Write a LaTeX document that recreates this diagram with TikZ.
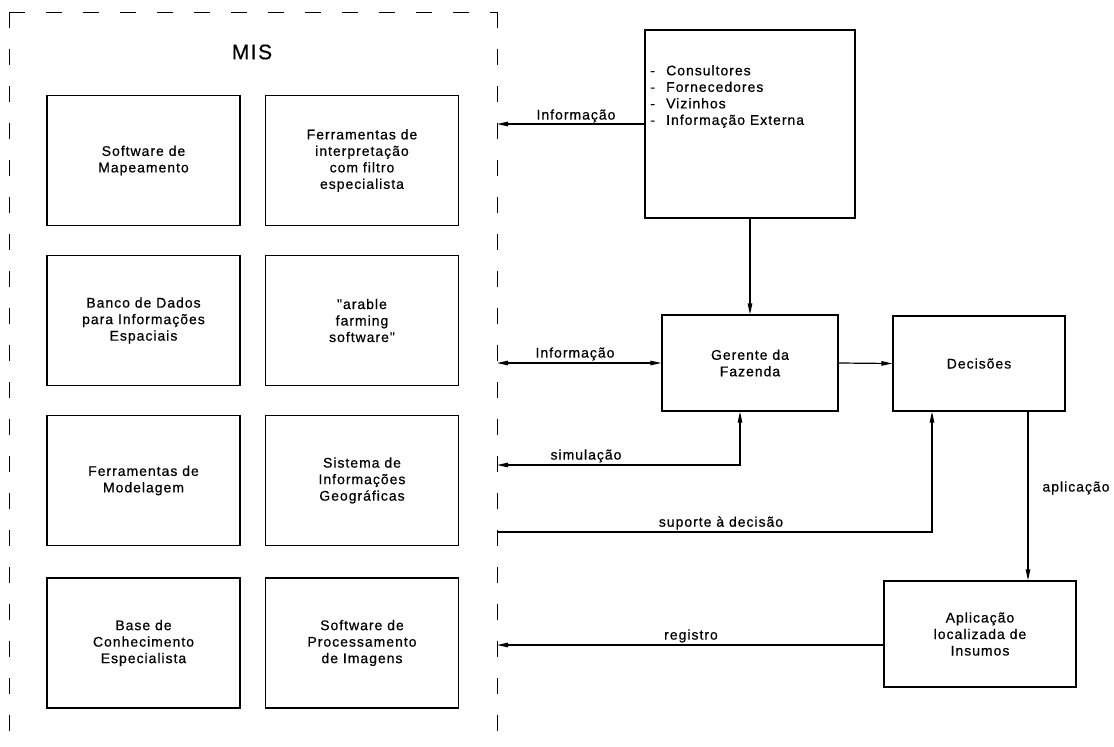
\documentclass[tikz,border=0pt]{standalone}
\usepackage{fontspec}
\setmainfont{Liberation Sans}[LetterSpace=7, FakeBold=0.6, Ligatures=TeXOff]
\usetikzlibrary{arrows.meta}
\begin{document}
\begin{tikzpicture}[x=1pt,y=-1pt,
  txt/.style={font=\fontsize{14}{16.5}\selectfont},
  box/.style={draw, line width=1.2pt, inner sep=0pt, align=center, txt},
  misbox/.style={box, minimum width=193pt, minimum height=130pt},
  lbl/.style={txt, inner sep=0pt},
  arr/.style={line width=1.2pt, -{Triangle[length=11pt,width=4.5pt]}},
  arrs/.style={line width=1.2pt, {Triangle[length=11pt,width=4.5pt]}-{Triangle[length=11pt,width=4.5pt]}},
  frame/.style={line width=1pt, dash pattern=on 16pt off 21pt}
]
\useasboundingbox (0,0) rectangle (1114,747);

% MIS frame (open at the bottom edge of the page), dashes starting at the corners
\coordinate (tl) at (9,12);
\coordinate (tr) at (497,12);
\draw[frame] (tl) -- (9,747);
\draw[frame] (tl) -- (tr);
\draw[frame] (tr) -- (497,747);
\node[font=\fontsize{21}{24}\selectfont, inner sep=0pt] (mis) at (252,52) {MIS};
\coordinate (misR) at (497,0);

% MIS components
\node[misbox] (map)  at (143.5,160.5) {Software de\\Mapeamento};
\node[misbox] (ferr) at (362,160.5) {Ferramentas de\\interpretação\\com filtro\\especialista};
\node[misbox] (bd)   at (143.5,320.5) {Banco de Dados\\para Informações\\Espaciais};
\node[misbox] (arab) at (362,320.5) {"arable\\farming\\software"};
\node[misbox] (mod)  at (143.5,480.5) {Ferramentas de\\Modelagem};
\node[misbox] (sig)  at (362,480.5) {Sistema de\\Informações\\Geográficas};
\node[misbox] (base) at (143.5,643) {Base de\\Conhecimento\\Especialista};
\node[misbox] (proc) at (362,643) {Software de\\Processamento\\de Imagens};

% Right-hand blocks
\node[box, minimum width=210pt, minimum height=188pt] (cons) at (750,124) {};
\node[txt, align=left, anchor=north west, inner sep=0pt] (constxt) at (650,65)
  {\makebox[16pt][l]{-}Consultores\\
   \makebox[16pt][l]{-}Fornecedores\\
   \makebox[16pt][l]{-}Vizinhos\\
   \makebox[16pt][l]{-}Informação Externa};
\node[box, minimum width=176pt, minimum height=96pt] (ger) at (750,363) {Gerente da\\Fazenda};
\node[box, minimum width=172pt, minimum height=95pt] (dec) at (979,363.5) {Decisões};
\node[box, minimum width=192pt, minimum height=106pt] (apl) at (980,634) {Aplicação\\localizada de\\Insumos};

% Connectors
\draw[arr] (cons.west) -- (cons.west -| misR);
\draw[arr] (cons.south) -- (ger.north);
\draw[arrs] (ger.west -| misR) -- (ger.west);
\draw[arr] (ger.east) -- (dec.west);
\coordinate (simL) at (497,465);
\draw[arrs] (simL) -| ([xshift=-10pt]ger.south);
\coordinate (supL) at (497,532);
\draw[arr] (supL) -| ([xshift=-47pt]dec.south);
\draw[arr] ([xshift=49pt]dec.south) -- ([xshift=49pt]dec.south |- apl.north);
\draw[arr] ([yshift=-11pt]apl.west) -- ([yshift=-11pt]apl.west -| misR);

% Connector labels
\node[lbl] (l1) at (576,116) {Informação};
\node[lbl] (l2) at (575,354) {Informação};
\node[lbl] (l3) at (586,456) {simulação};
\node[lbl] (l4) at (721,523) {suporte à decisão};
\node[lbl] (l5) at (1076,488) {aplicação};
\node[lbl] (l6) at (691,636) {registro};
\end{tikzpicture}
\end{document}
